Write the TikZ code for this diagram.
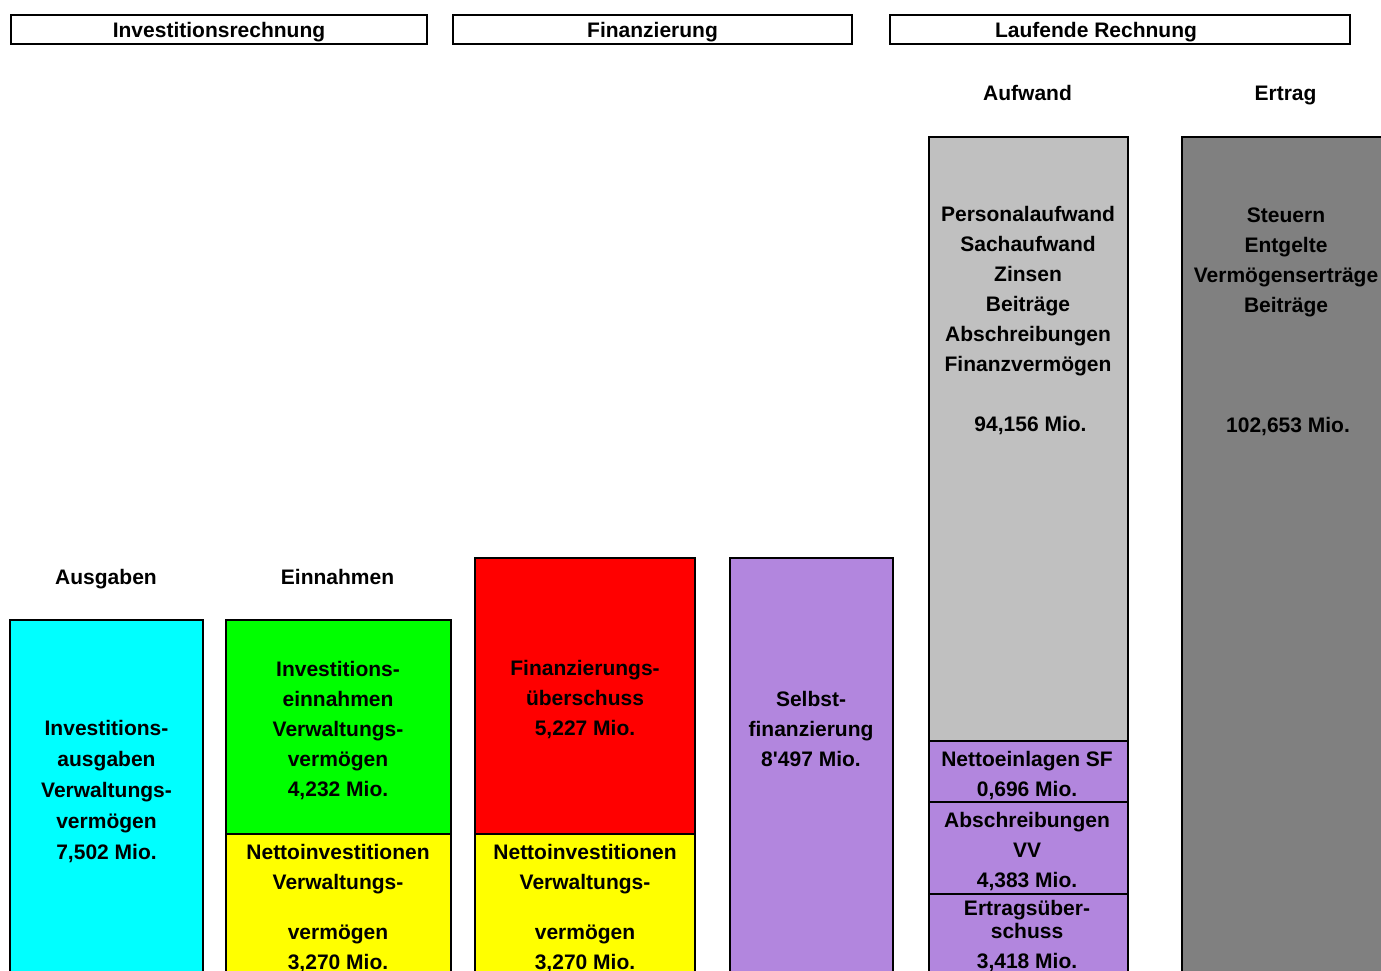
\documentclass[tikz,border=0pt]{standalone}
\usepackage{fontspec}
\setmainfont{Liberation Sans}
\usetikzlibrary{positioning}
\definecolor{tuerkis}{RGB}{0,255,255}
\definecolor{gruen}{RGB}{0,255,0}
\definecolor{gelb}{RGB}{255,255,0}
\definecolor{rot}{RGB}{255,0,0}
\definecolor{lila}{RGB}{178,134,222}
\definecolor{hellgrau}{RGB}{192,192,192}
\definecolor{dunkelgrau}{RGB}{128,128,128}
\begin{document}
\begin{tikzpicture}[x=1pt,y=-1pt,
  font=\fontsize{21}{30}\selectfont\bfseries,
  every node/.style={inner sep=0pt,outer sep=0pt},
  block/.style={draw,line width=2pt,anchor=north west},
  head/.style={draw,line width=2pt,minimum height=29pt,text height=15pt,text depth=0pt},
  txt/.style={align=center,anchor=base}
  ]
\useasboundingbox (0,0) rectangle (1381,970);
\clip (0,0) rectangle (1381,970);

% Kopfzeile
\node[head,minimum width=416pt] (hInv) at (219,29.5) {Investitionsrechnung};
\node[head,minimum width=399pt] (hFin) at (652.5,29.5) {Finanzierung};
\node[head,minimum width=460pt] (hLR) at (1120,29.5) {Laufende Rechnung\hspace*{48pt}};

% Investitionsrechnung
\node[txt] (lAus) at (106,584) {Ausgaben};
\node[txt] (lEin) at (337.5,584) {Einnahmen};
\node[block,fill=tuerkis,minimum width=192.7pt,minimum height=380pt] (InvAus) at (10.3,620.3) {};
\node[block,fill=gruen,minimum width=225.2pt,minimum height=213.2pt] (InvEin) at (225.8,620.3) {};
\node[block,fill=gelb,minimum width=225.2pt,minimum height=160pt,below=0pt of InvEin] (NettoA) {};
\node[txt] (tInvAus) at (106.5,859) {Investitions-\\[1pt]ausgaben\\[1pt]Verwaltungs-\\[1pt]vermögen\\[1pt]7,502 Mio.};
\node[txt] (tInvEin) at (338,796) {Investitions-\\einnahmen\\Verwaltungs-\\vermögen\\4,232 Mio.};
\node[txt] (tNettoA) at (338,969) {Nettoinvestitionen\\Verwaltungs-\\[20pt]vermögen\\3,270 Mio.};

% Finanzierung
\node[block,fill=rot,minimum width=220pt,minimum height=275.9pt] (FinUe) at (475,557.8) {};
\node[block,fill=gelb,minimum width=220pt,minimum height=160pt,below=0pt of FinUe] (NettoB) {};
\node[block,fill=lila,minimum width=163.3pt,minimum height=440pt] (SelbstF) at (729.7,557.8) {};
\node[txt] (tFinUe) at (585,735) {Finanzierungs-\\überschuss\\5,227 Mio.};
\node[txt] (tNettoB) at (585,969) {Nettoinvestitionen\\Verwaltungs-\\[20pt]vermögen\\3,270 Mio.};
\node[txt] (tSelbst) at (811,766) {Selbst-\\finanzierung\\8\textquotesingle 497 Mio.};

% Laufende Rechnung
\node[txt] (lAufw) at (1027.5,100.7) {Aufwand};
\node[txt] (lErtr) at (1285.5,100.7) {Ertrag};
\node[block,fill=hellgrau,minimum width=198.7pt,minimum height=603.8pt] (Aufw) at (929,137.2) {};
\node[block,fill=lila,minimum width=198.7pt,minimum height=60.7pt,below=0pt of Aufw] (NettoSF) {};
\node[block,fill=lila,minimum width=198.7pt,minimum height=92.6pt,below=0pt of NettoSF] (AbschrVV) {};
\node[block,fill=lila,minimum width=198.7pt,minimum height=100pt,below=0pt of AbschrVV] (ErtrUe) {};
\node[block,fill=dunkelgrau,minimum width=220pt,minimum height=860pt] (Ertr) at (1182,137.2) {};
\node[txt] (tAufw) at (1028,431.7) {Personalaufwand\\Sachaufwand\\Zinsen\\Beiträge\\Abschreibungen\\Finanzvermögen\\[30pt]\hspace*{5pt}94,156 Mio.};
\node[txt] (tErtr) at (1286,432) {Steuern\\Entgelte\\Vermögenserträge\\Beiträge\\[90pt]\hspace*{4pt}102,653 Mio.};
\node[txt] (tNettoSF) at (1027,796) {Nettoeinlagen SF\\0,696 Mio.};
\node[txt] (tAbschr) at (1027,887.7) {Abschreibungen\\VV\\4,383 Mio.};
\node[txt] (tErtrUe) at (1027,968.3) {Ertragsüber-\\[-6.7pt]schuss\\3,418 Mio.};
\end{tikzpicture}
\end{document}
